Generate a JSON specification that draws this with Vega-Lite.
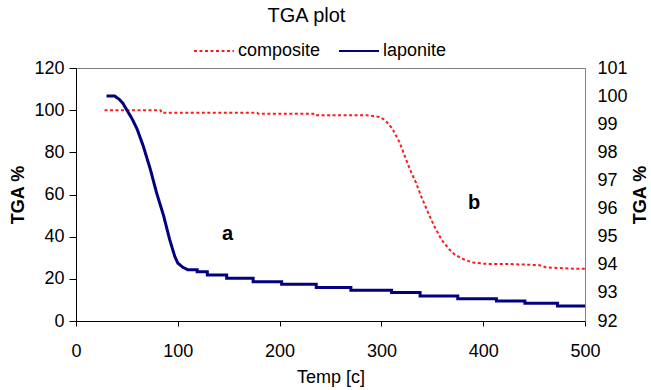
{
  "$schema": "https://vega.github.io/schema/vega-lite/v6.json",
  "autosize": "none",
  "width": 509,
  "height": 253,
  "padding": {"left": 76, "top": 68, "right": 66, "bottom": 69},
  "background": "white",
  "config": {
    "font": "Liberation Sans",
    "view": {"stroke": "#808080", "strokeWidth": 1},
    "axis": {"grid": false, "labelFont": "Liberation Sans", "titleFont": "Liberation Sans", "labelColor": "black", "titleColor": "black"}
  },
  "title": {"text": "TGA plot", "fontSize": 20, "fontWeight": "normal", "font": "Liberation Sans", "anchor": "middle", "dx": -24, "offset": 4, "color": "black"},
  "datasets": {
    "tga": [
      {"temp": 28, "pct": 100.0, "series": "composite"},
      {"temp": 60, "pct": 100.0, "series": "composite"},
      {"temp": 83, "pct": 100.0, "series": "composite"},
      {"temp": 84, "pct": 98.8, "series": "composite"},
      {"temp": 178, "pct": 98.8, "series": "composite"},
      {"temp": 179, "pct": 98.3, "series": "composite"},
      {"temp": 233, "pct": 98.3, "series": "composite"},
      {"temp": 234, "pct": 97.6, "series": "composite"},
      {"temp": 286, "pct": 97.6, "series": "composite"},
      {"temp": 298, "pct": 96.8, "series": "composite"},
      {"temp": 303, "pct": 95.4, "series": "composite"},
      {"temp": 307, "pct": 93.5, "series": "composite"},
      {"temp": 311, "pct": 91.0, "series": "composite"},
      {"temp": 318, "pct": 84.6, "series": "composite"},
      {"temp": 323, "pct": 78.2, "series": "composite"},
      {"temp": 328, "pct": 71.9, "series": "composite"},
      {"temp": 334, "pct": 65.6, "series": "composite"},
      {"temp": 339, "pct": 59.2, "series": "composite"},
      {"temp": 346, "pct": 51.3, "series": "composite"},
      {"temp": 352, "pct": 44.9, "series": "composite"},
      {"temp": 359, "pct": 38.6, "series": "composite"},
      {"temp": 367, "pct": 33.8, "series": "composite"},
      {"temp": 372, "pct": 31.5, "series": "composite"},
      {"temp": 379, "pct": 29.6, "series": "composite"},
      {"temp": 389, "pct": 27.8, "series": "composite"},
      {"temp": 402, "pct": 27.1, "series": "composite"},
      {"temp": 426, "pct": 27.0, "series": "composite"},
      {"temp": 455, "pct": 26.5, "series": "composite"},
      {"temp": 462, "pct": 25.4, "series": "composite"},
      {"temp": 488, "pct": 24.8, "series": "composite"},
      {"temp": 500, "pct": 24.8, "series": "composite"},
      {"temp": 30, "pct": 100.0, "series": "laponite"},
      {"temp": 38, "pct": 100.0, "series": "laponite"},
      {"temp": 42, "pct": 99.9, "series": "laponite"},
      {"temp": 46, "pct": 99.75, "series": "laponite"},
      {"temp": 50, "pct": 99.5, "series": "laponite"},
      {"temp": 55, "pct": 99.2, "series": "laponite"},
      {"temp": 60, "pct": 98.83, "series": "laponite"},
      {"temp": 66, "pct": 98.23, "series": "laponite"},
      {"temp": 73, "pct": 97.4, "series": "laponite"},
      {"temp": 79, "pct": 96.58, "series": "laponite"},
      {"temp": 86, "pct": 95.75, "series": "laponite"},
      {"temp": 92, "pct": 94.9, "series": "laponite"},
      {"temp": 97, "pct": 94.3, "series": "laponite"},
      {"temp": 100, "pct": 94.06, "series": "laponite"},
      {"temp": 105, "pct": 93.91, "series": "laponite"},
      {"temp": 110, "pct": 93.82, "series": "laponite"},
      {"temp": 119, "pct": 93.82, "series": "laponite"},
      {"temp": 119, "pct": 93.75, "series": "laponite"},
      {"temp": 129, "pct": 93.75, "series": "laponite"},
      {"temp": 129, "pct": 93.64, "series": "laponite"},
      {"temp": 148, "pct": 93.64, "series": "laponite"},
      {"temp": 148, "pct": 93.52, "series": "laponite"},
      {"temp": 174, "pct": 93.52, "series": "laponite"},
      {"temp": 174, "pct": 93.40, "series": "laponite"},
      {"temp": 202, "pct": 93.40, "series": "laponite"},
      {"temp": 202, "pct": 93.31, "series": "laponite"},
      {"temp": 236, "pct": 93.31, "series": "laponite"},
      {"temp": 236, "pct": 93.19, "series": "laponite"},
      {"temp": 270, "pct": 93.19, "series": "laponite"},
      {"temp": 270, "pct": 93.09, "series": "laponite"},
      {"temp": 310, "pct": 93.09, "series": "laponite"},
      {"temp": 310, "pct": 93.01, "series": "laponite"},
      {"temp": 338, "pct": 93.01, "series": "laponite"},
      {"temp": 338, "pct": 92.89, "series": "laponite"},
      {"temp": 375, "pct": 92.89, "series": "laponite"},
      {"temp": 375, "pct": 92.79, "series": "laponite"},
      {"temp": 413, "pct": 92.79, "series": "laponite"},
      {"temp": 413, "pct": 92.71, "series": "laponite"},
      {"temp": 441, "pct": 92.71, "series": "laponite"},
      {"temp": 441, "pct": 92.63, "series": "laponite"},
      {"temp": 473, "pct": 92.63, "series": "laponite"},
      {"temp": 473, "pct": 92.53, "series": "laponite"},
      {"temp": 500, "pct": 92.53, "series": "laponite"}
    ],
    "notes": [
      {"temp": 149, "pct": 41.3, "label": "a"},
      {"temp": 391, "pct": 56, "label": "b"}
    ]
  },
  "layer": [
    {
      "layer": [
        {
          "data": {"name": "tga"},
          "transform": [{"filter": "datum.series === 'composite'"}],
          "mark": {"type": "line", "strokeWidth": 2, "strokeCap": "butt"},
          "encoding": {
            "x": {"field": "temp", "type": "quantitative", "scale": {"domain": [0, 500]},
              "axis": {"title": "Temp [c]", "titleFontSize": 18, "titleFontWeight": "normal", "titlePadding": 8, "labelFontSize": 18, "values": [0, 100, 200, 300, 400, 500], "tickSize": 5, "labelPadding": 16, "domainColor": "black", "tickColor": "black", "labelFlush": false}},
            "y": {"field": "pct", "type": "quantitative", "scale": {"domain": [0, 120]},
              "axis": {"orient": "left", "title": "TGA %", "titleFontSize": 18, "titleFontWeight": "bold", "titlePadding": 6, "labelFontSize": 18, "values": [0, 20, 40, 60, 80, 100, 120], "tickSize": 7, "labelPadding": 5, "domainColor": "black", "tickColor": "black"}},
            "color": {"field": "series", "type": "nominal", "scale": {"domain": ["composite", "laponite"], "range": ["#ff1a1a", "#000080"]},
              "legend": {"title": null, "orient": "none", "legendX": 117, "legendY": -38, "direction": "horizontal", "symbolType": "stroke", "symbolSize": 1600, "symbolStrokeWidth": 2, "labelFontSize": 18, "labelColor": "black", "labelOffset": 3, "columnPadding": 14}},
            "strokeDash": {"field": "series", "type": "nominal", "scale": {"domain": ["composite", "laponite"], "range": [[3, 2.5], [1, 0]]}, "legend": null},
            "order": {"value": null}
          }
        },
        {
          "data": {"name": "notes"},
          "mark": {"type": "text", "fontSize": 20, "fontWeight": "bold", "align": "center", "baseline": "middle", "color": "black"},
          "encoding": {
            "x": {"field": "temp", "type": "quantitative"},
            "y": {"field": "pct", "type": "quantitative"},
            "text": {"field": "label"}
          }
        }
      ]
    },
    {
      "data": {"name": "tga"},
      "transform": [{"filter": "datum.series === 'laponite'"}],
      "mark": {"type": "line", "strokeWidth": 3},
      "encoding": {
        "x": {"field": "temp", "type": "quantitative"},
        "y": {"field": "pct", "type": "quantitative", "scale": {"domain": [92, 101]},
          "axis": {"orient": "right", "title": "TGA %", "titleFontSize": 18, "titleFontWeight": "bold", "titleAngle": -90, "titlePadding": 22, "labelFontSize": 18, "values": [92, 93, 94, 95, 96, 97, 98, 99, 100, 101], "ticks": false, "tickSize": 0, "labelPadding": 12, "domainColor": "#808080"}},
        "color": {"field": "series", "type": "nominal"},
        "strokeDash": {"field": "series", "type": "nominal", "legend": null},
        "order": {"value": null}
      }
    }
  ],
  "resolve": {"scale": {"y": "independent"}}
}
